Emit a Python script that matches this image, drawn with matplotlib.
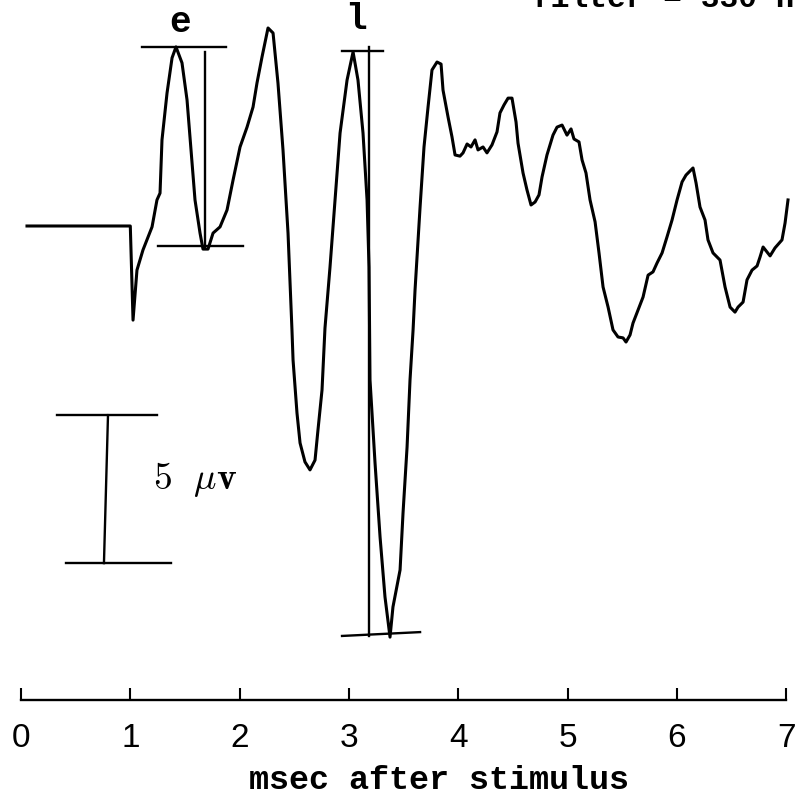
import matplotlib
matplotlib.use("Agg")
import matplotlib.pyplot as plt
import numpy as np

plt.rcParams['mathtext.fontset'] = 'cm'

# ---- data: evoked potential trace (time in msec, amplitude in microvolts)
t_ms = [0.055, 1.00, 1.025, 1.061, 1.116, 1.199, 1.244, 1.272, 1.290, 1.336,
        1.382, 1.418, 1.473, 1.519, 1.555, 1.592, 1.638, 1.665, 1.711, 1.757,
        1.821, 1.885, 1.940, 2.004, 2.068, 2.123, 2.159, 2.205, 2.260, 2.306,
        2.351, 2.397, 2.443, 2.479, 2.489, 2.525, 2.553, 2.598, 2.644, 2.690,
        2.717, 2.754, 2.781, 2.827, 2.873, 2.919, 2.983, 3.038, 3.083, 3.129,
        3.166, 3.184, 3.193, 3.239, 3.285, 3.330, 3.376, 3.403, 3.468, 3.495,
        3.532, 3.559, 3.587, 3.605, 3.651, 3.687, 3.724, 3.760, 3.806, 3.843,
        3.861, 3.907, 3.943, 3.971, 4.016, 4.044, 4.081, 4.117, 4.154, 4.181,
        4.227, 4.263, 4.309, 4.355, 4.382, 4.419, 4.456, 4.492, 4.529, 4.547,
        4.593, 4.629, 4.666, 4.703, 4.739, 4.767, 4.812, 4.867, 4.904, 4.950,
        4.995, 5.032, 5.059, 5.105, 5.133, 5.169, 5.206, 5.252, 5.288, 5.325,
        5.371, 5.416, 5.462, 5.508, 5.535, 5.572, 5.599, 5.645, 5.691, 5.737,
        5.782, 5.819, 5.865, 5.910, 5.956, 6.002, 6.048, 6.084, 6.148, 6.176,
        6.212, 6.258, 6.285, 6.331, 6.395, 6.441, 6.487, 6.532, 6.560, 6.606,
        6.642, 6.688, 6.734, 6.761, 6.789, 6.853, 6.898, 6.962, 6.990, 7.017]
amp_uv = [0.00, 0.00, -3.18, -1.49, -0.81, -0.03, 0.88, 1.11, 2.91, 4.49,
          5.68, 6.05, 5.51, 4.26, 2.57, 0.88, -0.24, -0.78, -0.78, -0.24,
          -0.03, 0.54, 1.55, 2.67, 3.34, 4.02, 4.83, 5.71, 6.69, 6.52,
          4.83, 2.57, -0.24, -3.51, -4.53, -6.32, -7.33, -7.97, -8.24, -7.91,
          -6.89, -5.54, -3.45, -1.39, 0.88, 3.14, 4.93, 5.88, 4.93, 3.14,
          0.88, -1.39, -5.20, -8.01, -10.51, -12.53, -13.89, -12.87, -11.62, -9.70,
          -7.47, -5.20, -3.51, -2.16, 0.64, 2.67, 4.02, 5.27, 5.54, 5.47,
          4.59, 3.68, 3.01, 2.40, 2.36, 2.47, 2.77, 2.67, 2.91, 2.57,
          2.67, 2.47, 2.74, 3.18, 3.82, 4.09, 4.32, 4.32, 3.51, 2.80,
          1.79, 1.22, 0.71, 0.81, 1.05, 1.66, 2.40, 3.07, 3.34, 3.41,
          3.07, 3.28, 2.94, 2.84, 2.23, 1.79, 0.88, 0.14, -0.91, -2.06,
          -2.74, -3.51, -3.75, -3.78, -3.92, -3.68, -3.28, -2.84, -2.40, -1.66,
          -1.55, -1.25, -0.91, -0.37, 0.20, 0.88, 1.49, 1.72, 1.96, 1.45,
          0.64, 0.20, -0.47, -0.91, -1.15, -2.06, -2.74, -2.91, -2.74, -2.57,
          -1.82, -1.49, -1.35, -1.05, -0.71, -1.01, -0.74, -0.47, 0.10, 0.88]

# peak-to-trough markers: (t_left, t_right, level)
e_top = (1.107, 1.876, 6.05)
e_bottom = (1.253, 2.031, -0.68)
e_vert = (1.683, 5.88, -0.71)
l_top = (2.937, 3.312, 5.91)
l_bottom = ([2.937, 3.651], [-13.85, -13.72])
l_vert = (3.188, 6.05, -13.85)

# 5 microvolt scale bar
bar_top = (0.329, 1.244, -6.39)
bar_bottom = (0.412, 1.372, -11.39)
bar_vert = ([0.796, 0.759], [-6.39, -11.39])

x_ticks = [0, 1, 2, 3, 4, 5, 6, 7]
x_ticklabels = ['0', '1', '2', '3', '4', '5', '6', '7']

fig = plt.figure(figsize=(7.95, 8.06), dpi=100)
ax = fig.add_axes([0, 0, 1, 1])
ax.set_xlim(-0.192, 7.081)
ax.set_ylim(-19.595, 7.635)

lw_trace = 2.2
lw_ann = 1.7
k = 'black'

ax.plot(t_ms, amp_uv, color=k, lw=lw_trace, solid_joinstyle='round')

ax.plot([e_top[0], e_top[1]], [e_top[2]] * 2, color=k, lw=lw_ann)
ax.plot([e_bottom[0], e_bottom[1]], [e_bottom[2]] * 2, color=k, lw=lw_ann)
ax.plot([e_vert[0]] * 2, [e_vert[1], e_vert[2]], color=k, lw=lw_ann)
ax.plot([l_top[0], l_top[1]], [l_top[2]] * 2, color=k, lw=lw_ann)
ax.plot(l_bottom[0], l_bottom[1], color=k, lw=lw_ann)
ax.plot([l_vert[0]] * 2, [l_vert[1], l_vert[2]], color=k, lw=lw_ann)

ax.plot([bar_top[0], bar_top[1]], [bar_top[2]] * 2, color=k, lw=lw_ann)
ax.plot([bar_bottom[0], bar_bottom[1]], [bar_bottom[2]] * 2, color=k, lw=lw_ann)
ax.plot(bar_vert[0], bar_vert[1], color=k, lw=lw_ann)

mono = ['Liberation Mono', 'DejaVu Sans Mono']
ax.text(1.455, 6.89, 'e', fontsize=26, family=mono, weight='bold',
        ha='center', va='center')
ax.text(3.065, 6.96, 'l', fontsize=26, family=mono, weight='bold',
        ha='center', va='center')
ax.text(1.208, -8.58, r'$\mathbf{5}\ \ \mu\mathbf{v}$', fontsize=27,
        ha='left', va='center')
ax.text(4.675, 7.40, 'filter = 330 Hz', fontsize=22.5, family=mono,
        weight='bold', ha='left', va='baseline')

# x axis
for s in ['top', 'left', 'right']:
    ax.spines[s].set_visible(False)
ax.spines['bottom'].set_position(('data', -16.0))
ax.spines['bottom'].set_bounds(0, 7)
ax.spines['bottom'].set_linewidth(1.7)
ax.set_yticks([])
ax.set_xticks(x_ticks)
ax.set_xticklabels(x_ticklabels, fontsize=24,
                   family=['Liberation Sans', 'DejaVu Sans'])
ax.tick_params(axis='x', direction='in', length=8.6, width=1.5, pad=17)
ax.text(3.824, -18.75, 'msec after stimulus', fontsize=24, family=mono,
        weight='bold', ha='center', va='center')

fig.savefig('out.png', dpi=100)
